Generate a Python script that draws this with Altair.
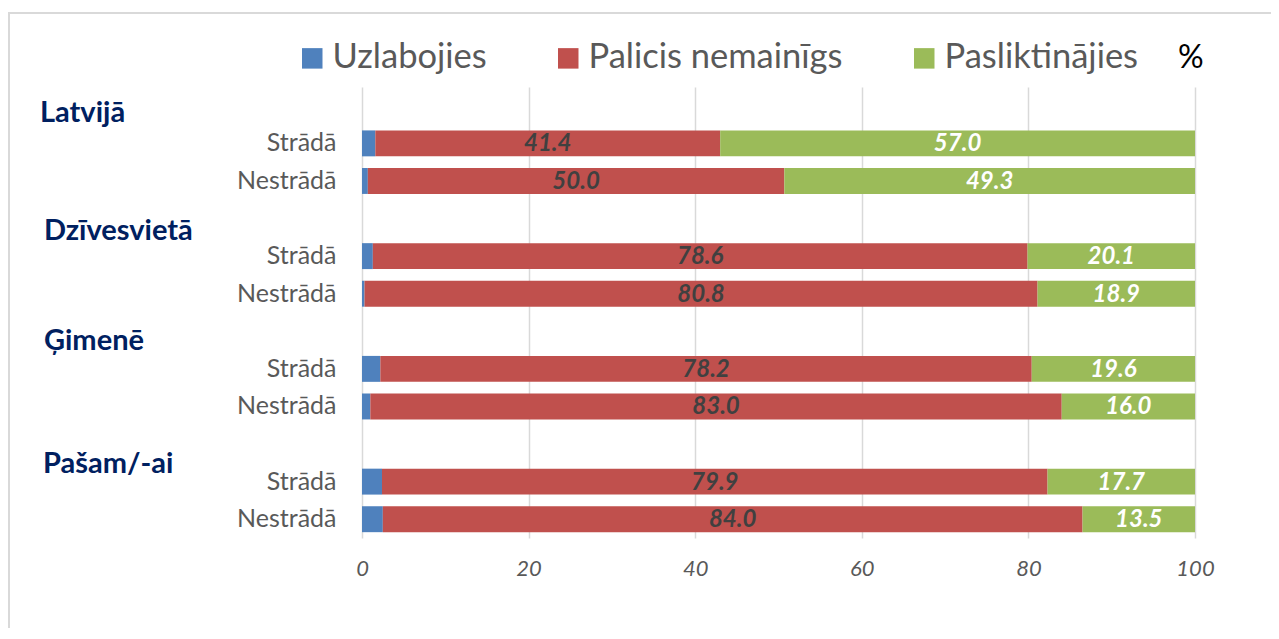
import altair as alt
import pandas as pd

groups = ["Latvijā", "Dzīvesvietā", "Ģimenē", "Pašam/-ai"]
statuses = ["Strādā", "Nestrādā"]
series = ["Uzlabojies", "Palicis nemainīgs", "Pasliktinājies"]
colors = ["#4f81bd", "#c0504d", "#9bbb59"]
uzlabojies = [1.6, 0.7, 1.3, 0.3, 2.2, 1.0, 2.4, 2.5]
palicis = [41.4, 50.0, 78.6, 80.8, 78.2, 83.0, 79.9, 84.0]
pasliktinajies = [57.0, 49.3, 20.1, 18.9, 19.6, 16.0, 17.7, 13.5]
x_ticks = [0, 20, 40, 60, 80, 100]

FONT = "Lato"

rows_order = []
for g in groups:
    rows_order.append(g + "|")
    for s in statuses:
        rows_order.append(g + "|" + s)

records = []
i = 0
for g in groups:
    for s in statuses:
        vals = [uzlabojies[i], palicis[i], pasliktinajies[i]]
        start = 0.0
        for k, (name, v) in enumerate(zip(series, vals)):
            records.append(dict(row=g + "|" + s, series=name, order=k, value=v,
                                start=start, end=start + v, mid=start + v / 2,
                                label=f"{v:.1f}"))
            start += v
        i += 1
df = pd.DataFrame(records)

yscale = alt.Scale(domain=rows_order, paddingInner=0.31, paddingOuter=0.155)
xscale = alt.Scale(domain=[0, 100], nice=False)

bars = alt.Chart(df).mark_bar().encode(
    y=alt.Y("row:N", scale=yscale, sort=rows_order,
            axis=alt.Axis(title=None, domain=False, ticks=False, grid=False,
                          labelExpr="split(datum.value, '|')[1]",
                          labelFont=FONT, labelFontSize=25, labelColor="#595959",
                          labelPadding=26)),
    x=alt.X("start:Q", scale=xscale,
            axis=alt.Axis(title=None, values=x_ticks, domain=False, ticks=False,
                          grid=True, gridColor="#d9d9d9", gridWidth=1.5,
                          labelFlush=False,
                          labelFont=FONT, labelFontSize=22, labelFontStyle="italic",
                          labelColor="#595959", labelPadding=20)),
    x2="end:Q",
    color=alt.Color("series:N", scale=alt.Scale(domain=series, range=colors),
                    legend=alt.Legend(orient="none", legendX=-67, legendY=-46,
                                      direction="horizontal", title="%",
                                      titleOrient="right", symbolType="square",
                                      symbolSize=420, symbolStrokeWidth=0,
                                      labelFont=FONT, labelFontSize=34.5,
                                      labelColor="#595959", labelOffset=3,
                                      columnPadding=64, titleFont=FONT,
                                      titleFontSize=32, titleColor="black",
                                      titleFontWeight="normal", titlePadding=40,
                                      labelLimit=400)),
    order="order:Q",
)

labels = alt.Chart(df[df["series"] != "Uzlabojies"]).mark_text(
    font=FONT, fontSize=24, fontWeight="bold", fontStyle="italic", baseline="middle", dy=1
).encode(
    y=alt.Y("row:N", scale=yscale, sort=rows_order),
    x=alt.X("mid:Q", scale=xscale),
    text="label:N",
    color=alt.condition(alt.datum.series == "Pasliktinājies", alt.value("white"), alt.value("#404040")),
)

header_pos = {"Latvijā": (-322, 16), "Dzīvesvietā": (-318, 21), "Ģimenē": (-318, 19), "Pašam/-ai": (-319, 29)}
headers = []
for g in groups:
    hx, hdy = header_pos[g]
    hdf = pd.DataFrame({"row": [g + "|"], "name": [g]})
    headers.append(alt.Chart(hdf).mark_text(
        font=FONT, fontSize=29, fontWeight="bold", color="#002060",
        align="left", baseline="alphabetic", dy=hdy
    ).encode(y=alt.Y("row:N", scale=yscale, sort=rows_order), x=alt.value(hx), text="name:N"))

border = alt.Chart(pd.DataFrame({"a": [0]})).mark_rect(
    fill=None, stroke="#d9d9d9", strokeWidth=2
).encode(x=alt.value(-353), x2=alt.value(960), y=alt.value(-74), y2=alt.value(600))

chart = alt.layer(bars, labels, *headers, border).properties(
    width=833, height=451,
    autosize=alt.AutoSizeParams(type="none"),
    padding={"left": 354, "top": 79, "right": 76, "bottom": 90},
).configure_view(stroke=None)

chart.save("out.html", embed_options={"renderer": "svg", "actions": False})
